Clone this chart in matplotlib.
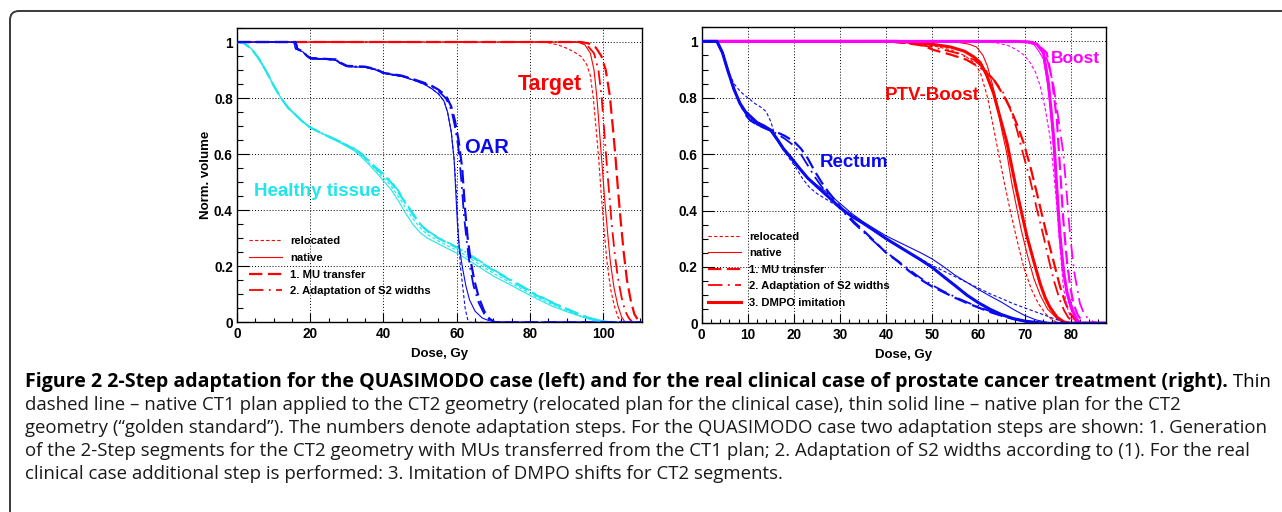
import numpy as np
import matplotlib
matplotlib.use('Agg')
import matplotlib.pyplot as plt
from matplotlib.lines import Line2D
from matplotlib.patches import FancyBboxPatch
from matplotlib.transforms import IdentityTransform
from matplotlib.ticker import MultipleLocator, FuncFormatter

# ---------------- data (dose Gy, normalized volume) ----------------
# LEFT: QUASIMODO case
L_HT_REL = [(0,1),(2,0.995),(4,0.975),(6,0.94),(8,0.895),(10,0.845),(12,0.8),(14,0.765),(16,0.74),(18,0.715),(20,0.695),(23,0.675),(26,0.656),(29,0.636),(32,0.615),(34,0.595),(36,0.57),(38,0.542),(40,0.515),(42,0.488),(44,0.45),(46,0.41),(48,0.37),(50,0.337),(52,0.313),(55,0.29),(58,0.27),(61,0.25),(64,0.225),(67,0.2),(70,0.175),(74,0.146),(78,0.117),(82,0.089),(86,0.064),(90,0.042),(94,0.022),(97,0.01),(100,0.002),(101.5,0),(110.7,0)]
L_HT_NAT = [(0,1),(2,0.995),(4,0.975),(6,0.94),(8,0.895),(10,0.845),(12,0.8),(14,0.765),(16,0.74),(18,0.715),(20,0.695),(23,0.675),(26,0.655),(29,0.635),(32,0.612),(34,0.59),(36,0.563),(38,0.535),(40,0.505),(42,0.475),(44,0.435),(46,0.39),(48,0.35),(50,0.32),(52,0.3),(55,0.28),(58,0.26),(61,0.24),(64,0.215),(67,0.19),(70,0.165),(74,0.138),(78,0.11),(82,0.083),(86,0.058),(90,0.038),(94,0.02),(97,0.008),(100,0.002),(101,0),(110.7,0)]
L_HT_MU = [(0,1),(2,0.995),(4,0.975),(6,0.94),(8,0.895),(10,0.845),(12,0.8),(14,0.765),(16,0.74),(18,0.715),(20,0.695),(23,0.675),(26,0.657),(29,0.638),(32,0.618),(34,0.6),(36,0.575),(38,0.548),(40,0.525),(42,0.5),(44,0.465),(46,0.425),(48,0.385),(50,0.35),(52,0.325),(55,0.3),(58,0.28),(61,0.26),(64,0.235),(67,0.21),(70,0.185),(74,0.155),(78,0.125),(82,0.095),(86,0.07),(90,0.047),(94,0.025),(97,0.012),(100,0.003),(102,0),(110.7,0)]
L_HT_AD = [(0,1),(2,0.995),(4,0.975),(6,0.94),(8,0.895),(10,0.845),(12,0.8),(14,0.765),(16,0.74),(18,0.715),(20,0.695),(23,0.676),(26,0.658),(29,0.64),(32,0.62),(34,0.602),(36,0.578),(38,0.552),(40,0.53),(42,0.505),(44,0.47),(46,0.43),(48,0.39),(50,0.352),(52,0.327),(55,0.302),(58,0.282),(61,0.262),(64,0.238),(67,0.213),(70,0.188),(74,0.158),(78,0.128),(82,0.098),(86,0.072),(90,0.049),(94,0.027),(97,0.013),(100,0.004),(102.5,0),(110.7,0)]

L_OAR_REL = [(0,1),(15.5,1),(16,0.975),(18,0.965),(19,0.95),(20,0.94),(24,0.938),(27,0.935),(28,0.925),(30,0.912),(35,0.91),(38,0.9),(40,0.888),(45,0.877),(48,0.865),(51,0.85),(53,0.835),(55,0.815),(56.5,0.79),(57.5,0.75),(58.5,0.68),(59.3,0.58),(60,0.45),(60.5,0.3),(61,0.2),(61.7,0.12),(62.3,0.05),(63,0.01),(63.5,0),(110.7,0)]
L_OAR_NAT = [(0,1),(15.5,1),(16,0.975),(18,0.965),(19,0.95),(20,0.94),(24,0.938),(27,0.935),(28,0.925),(30,0.912),(35,0.91),(38,0.9),(40,0.888),(45,0.877),(48,0.865),(51,0.85),(53,0.835),(55,0.815),(56.5,0.79),(57.5,0.75),(58.5,0.68),(59.3,0.58),(59.8,0.45),(60.2,0.35),(60.7,0.27),(61.5,0.2),(62.5,0.13),(63.5,0.08),(65,0.04),(67,0.015),(69,0.005),(71,0),(110.7,0)]
L_OAR_MU = [(0,1),(16,1),(16.5,0.975),(18,0.967),(19,0.952),(20,0.943),(24,0.94),(27,0.938),(28,0.928),(30,0.915),(35,0.912),(38,0.903),(40,0.89),(45,0.88),(48,0.868),(51,0.855),(53,0.845),(55,0.83),(57,0.81),(58.5,0.77),(59.5,0.72),(60.5,0.65),(61.5,0.55),(62.3,0.4),(63,0.3),(63.8,0.22),(64.8,0.15),(66,0.09),(67.5,0.04),(69,0.012),(70.5,0),(110.7,0)]
L_OAR_AD = [(0,1),(16,1),(16.5,0.975),(18,0.966),(19,0.951),(20,0.942),(24,0.939),(27,0.937),(28,0.927),(30,0.914),(35,0.911),(38,0.902),(40,0.889),(45,0.879),(48,0.867),(51,0.853),(53,0.842),(55,0.825),(57,0.8),(58.5,0.76),(59.5,0.7),(60.5,0.62),(61.3,0.5),(62,0.38),(62.8,0.28),(63.6,0.2),(64.6,0.13),(66,0.07),(67.5,0.03),(69,0.008),(70.5,0),(110.7,0)]

L_TG_REL = [(0,1),(84,1),(86,0.995),(88,0.988),(90,0.978),(92,0.965),(94,0.948),(95.5,0.92),(96.5,0.88),(97.3,0.8),(98,0.7),(98.8,0.58),(99.5,0.45),(100.3,0.32),(101,0.22),(102,0.12),(103,0.06),(104,0.02),(105,0),(110.7,0)]
L_TG_NAT = [(0,1),(93,1),(95,0.99),(96.5,0.96),(97.5,0.9),(98.3,0.8),(99,0.68),(99.7,0.56),(100.4,0.44),(101.2,0.32),(102,0.21),(103,0.12),(104,0.06),(105,0.02),(106,0),(110.7,0)]
L_TG_MU = [(0,1),(94,1),(96,0.995),(98,0.98),(99.5,0.95),(100.7,0.9),(101.8,0.81),(102.6,0.7),(103.3,0.6),(104,0.48),(104.8,0.36),(105.6,0.25),(106.5,0.15),(107.5,0.08),(108.5,0.03),(109.5,0.008),(110.3,0),(110.7,0)]
L_TG_AD = [(0,1),(93.5,1),(95.5,0.99),(97.5,0.96),(98.7,0.9),(99.6,0.8),(100.3,0.68),(101,0.56),(101.7,0.45),(102.4,0.34),(103.2,0.24),(104,0.16),(105,0.09),(106,0.04),(107,0.015),(108,0),(110.7,0)]

# RIGHT: clinical prostate case
R_RE_REL = [(0,1),(3.3,1),(4.5,0.96),(5.6,0.9),(7,0.85),(8.5,0.82),(10,0.8),(11.5,0.78),(13,0.765),(14,0.75),(15,0.715),(16,0.66),(17.5,0.62),(19,0.585),(20.5,0.55),(22,0.51),(23.5,0.48),(25,0.46),(27,0.44),(29,0.42),(31,0.4),(33,0.38),(35,0.36),(37.5,0.33),(40,0.3),(42.5,0.275),(45,0.25),(47.5,0.228),(50,0.205),(52.5,0.185),(55,0.165),(57.5,0.145),(60,0.125),(62.5,0.105),(65,0.088),(67.5,0.07),(70,0.055),(72.5,0.04),(75,0.025),(77.5,0.01),(79,0),(87.6,0)]
R_RE_NAT = [(0,1),(3.3,1),(4.5,0.96),(5.6,0.9),(7,0.83),(8.3,0.78),(9.5,0.745),(10.5,0.72),(12,0.705),(13.5,0.695),(15,0.68),(16.5,0.645),(17.7,0.615),(19.5,0.58),(21.3,0.545),(23,0.515),(25,0.49),(27.5,0.46),(30,0.425),(32.5,0.39),(35,0.36),(37.5,0.335),(40,0.31),(42.5,0.29),(45,0.27),(47.5,0.25),(50,0.228),(52.5,0.2),(55,0.17),(57.5,0.145),(60,0.12),(62.5,0.097),(65,0.075),(67.5,0.05),(70,0.028),(72.5,0.012),(75,0.003),(77,0),(87.6,0)]
R_RE_MU = [(0,1),(3.3,1),(4.5,0.96),(5.6,0.9),(7,0.83),(8.3,0.78),(9.5,0.74),(10.5,0.72),(12,0.705),(14,0.69),(16,0.68),(18,0.665),(20,0.645),(21.5,0.62),(23,0.585),(24.5,0.54),(26,0.5),(27.5,0.465),(29,0.435),(31,0.395),(33,0.36),(35,0.33),(37.5,0.29),(40,0.25),(42.5,0.22),(45,0.185),(47.5,0.155),(50,0.13),(52.5,0.11),(55,0.09),(57.5,0.072),(60,0.056),(62.5,0.04),(65,0.027),(67.5,0.016),(70,0.007),(72,0.002),(74,0),(87.6,0)]
R_RE_AD = [(0,1),(3.3,1),(4.5,0.96),(5.6,0.9),(7,0.83),(8.3,0.78),(9.5,0.745),(10.5,0.725),(12,0.705),(14,0.69),(16,0.675),(18,0.655),(20,0.63),(21.5,0.6),(23,0.56),(24.5,0.52),(26,0.485),(27.5,0.455),(29,0.425),(31,0.39),(33,0.355),(35,0.325),(37.5,0.288),(40,0.252),(42.5,0.222),(45,0.19),(47.5,0.16),(50,0.135),(52.5,0.113),(55,0.093),(57.5,0.075),(60,0.058),(62.5,0.043),(65,0.029),(67.5,0.017),(70,0.008),(72,0.003),(74,0),(87.6,0)]
R_RE_DM = [(0,1),(3.3,1),(4.5,0.96),(5.6,0.9),(7,0.83),(8.3,0.78),(9.5,0.75),(10.5,0.735),(12,0.712),(13.5,0.7),(15,0.685),(16.5,0.65),(17.7,0.62),(19.5,0.585),(21.3,0.548),(23,0.515),(25,0.485),(27.5,0.448),(30,0.41),(32.5,0.38),(35,0.355),(37.5,0.328),(40,0.3),(42.5,0.275),(45,0.25),(47.5,0.225),(50,0.198),(52.5,0.165),(55,0.133),(57.5,0.1),(60,0.073),(62.5,0.05),(65,0.031),(67.5,0.017),(70,0.008),(72.5,0.003),(75,0),(87.6,0)]

R_PB_REL = [(0,1),(38,1),(42,0.998),(46,0.993),(50,0.985),(54,0.97),(57,0.95),(59,0.925),(60.4,0.89),(61.3,0.84),(62,0.8),(63.2,0.7),(64.4,0.6),(65.6,0.5),(66.9,0.4),(68.3,0.3),(69.8,0.2),(71.5,0.12),(73,0.07),(74.5,0.035),(76,0.012),(77.5,0),(87.6,0)]
R_PB_NAT = [(0,1),(50,1),(55,0.998),(58,0.99),(59.6,0.98),(61,0.95),(62,0.91),(63,0.85),(64,0.78),(65,0.69),(66.2,0.6),(67.2,0.5),(68.3,0.41),(69.3,0.33),(70.5,0.25),(72,0.16),(73.4,0.1),(75,0.05),(77,0.018),(79,0),(87.6,0)]
R_PB_MU = [(0,1),(40,1),(44,0.995),(48,0.985),(50.2,0.97),(54,0.953),(57.4,0.935),(61.1,0.9),(63.5,0.86),(65.4,0.81),(67,0.76),(68.5,0.7),(69.8,0.64),(71.2,0.56),(72.7,0.46),(74,0.37),(75.5,0.27),(76.6,0.2),(77.7,0.13),(78.8,0.075),(79.9,0.035),(81,0.012),(82,0),(87.6,0)]
R_PB_AD = [(0,1),(40,1),(45,0.993),(50,0.98),(55,0.96),(59,0.935),(61.5,0.9),(63.5,0.86),(65.4,0.818),(66.9,0.76),(68.3,0.69),(69.7,0.6),(71.2,0.51),(72.6,0.41),(74.1,0.31),(75.2,0.23),(76.3,0.155),(77.6,0.085),(78.6,0.045),(79.5,0.02),(80.5,0.005),(81.5,0),(87.6,0)]
R_PB_DM = [(0,1),(42,1),(46,0.997),(50,0.99),(54,0.98),(57,0.965),(59,0.945),(60.4,0.925),(61.8,0.88),(63.3,0.815),(64.7,0.73),(66.2,0.64),(67.3,0.55),(68.3,0.47),(69.4,0.39),(70.5,0.31),(72,0.22),(73.4,0.14),(74.5,0.09),(75.5,0.057),(77,0.022),(78.5,0.005),(80,0),(87.6,0)]

R_BO_REL = [(0,1),(60,1),(64,0.995),(66.5,0.985),(68.3,0.97),(70,0.95),(71.2,0.925),(72.4,0.89),(73.4,0.842),(74.5,0.76),(75.5,0.664),(76.3,0.54),(77,0.415),(77.7,0.27),(78.4,0.13),(79.2,0.06),(79.9,0.024),(80.5,0.008),(81,0),(87.6,0)]
R_BO_NAT = [(0,1),(66,1),(70,0.997),(72,0.99),(73.3,0.96),(74.1,0.937),(74.8,0.87),(75.5,0.783),(76.2,0.64),(77,0.486),(77.7,0.33),(78.4,0.19),(79.2,0.1),(80,0.05),(80.6,0.035),(81.3,0.012),(82,0),(87.6,0)]
R_BO_MU = [(0,1),(68,1),(71,0.998),(72.7,0.99),(74.8,0.96),(76,0.86),(77,0.723),(77.7,0.55),(78.4,0.367),(79.2,0.22),(79.9,0.13),(80.6,0.071),(81.5,0.03),(82.5,0.008),(83.3,0),(87.6,0)]
R_BO_AD = [(0,1),(68,1),(72,0.997),(74.1,0.97),(75.2,0.92),(76.3,0.842),(77.3,0.73),(78.4,0.605),(79.2,0.45),(79.9,0.308),(80.8,0.18),(82,0.071),(83,0.03),(84.1,0.013),(85,0.004),(86,0),(87.6,0)]
R_BO_DM = [(0,1),(68,1),(71,0.998),(72.7,0.99),(74.1,0.96),(75.2,0.85),(76.3,0.664),(77,0.48),(77.7,0.308),(78.5,0.18),(79.2,0.11),(79.9,0.071),(80.8,0.03),(81.5,0.01),(82.3,0),(87.6,0)]

LEGEND_LEFT = ["relocated", "native", "1. MU transfer", "2. Adaptation of S2 widths"]
LEGEND_RIGHT = LEGEND_LEFT + ["3. DMPO imitation"]
X_TICKS_LEFT = [0, 20, 40, 60, 80, 100]
X_TICKS_RIGHT = [0, 10, 20, 30, 40, 50, 60, 70, 80]
Y_TICKS = [0, 0.2, 0.4, 0.6, 0.8, 1]

CAPTION_BOLD = "Figure 2 2-Step adaptation for the QUASIMODO case (left) and for the real clinical case of prostate cancer treatment (right)."
CAPTION_LINES = [
    " Thin",
    "dashed line \u2013 native CT1 plan applied to the CT2 geometry (relocated plan for the clinical case), thin solid line \u2013 native plan for the CT2",
    "geometry (\u201cgolden standard\u201d). The numbers denote adaptation steps. For the QUASIMODO case two adaptation steps are shown: 1. Generation",
    "of the 2-Step segments for the CT2 geometry with MUs transferred from the CT1 plan; 2. Adaptation of S2 widths according to (1). For the real",
    "clinical case additional step is performed: 3. Imitation of DMPO shifts for CT2 segments.",
]

# ---------------- styling ----------------
RED, BLUE, CYAN, MAG = '#ff0000', '#0a0af0', '#1ee6ea', '#ff00ff'
STY = {
    'rel':  dict(lw=0.8, ls=(0, (3, 2))),
    'nat':  dict(lw=0.8, ls='-'),
    'mu':   dict(lw=1.6, ls=(0, (6, 2.5))),
    'ad':   dict(lw=1.3, ls=(0, (8, 3, 1, 3))),
    'dm':   dict(lw=2.2, ls='-'),
}

plt.rcParams['font.family'] = ['Liberation Sans', 'DejaVu Sans']
plt.rcParams['font.weight'] = 'bold'

W, H = 1282, 512
fig = plt.figure(figsize=(W / 100, H / 100), dpi=100)

# frame box
box = FancyBboxPatch((10, -40), 1330, H - 11 + 40, boxstyle="round,pad=0,rounding_size=9",
                     transform=IdentityTransform(), fill=False, ec='#3a3a3a', lw=1.4)
fig.add_artist(box)

axL = fig.add_axes([237 / W, 1 - 322.3 / H, (642 - 237) / W, (322.3 - 28) / H])
axR = fig.add_axes([701.7 / W, 1 - 323.3 / H, (1105.7 - 701.7) / W, (323.3 - 27.3) / H])


def draw(ax, data, color, key, z):
    a = np.array(data)
    ax.plot(a[:, 0], a[:, 1], color=color, zorder=z, solid_joinstyle='round', **STY[key])


for d, k in [(L_TG_REL, 'rel'), (L_TG_NAT, 'nat'), (L_TG_MU, 'mu'), (L_TG_AD, 'ad')]:
    draw(axL, d, RED, k, 3)
for d, k in [(L_HT_REL, 'rel'), (L_HT_NAT, 'nat'), (L_HT_MU, 'mu'), (L_HT_AD, 'ad')]:
    draw(axL, d, CYAN, k, 4)
for d, k in [(L_OAR_REL, 'rel'), (L_OAR_NAT, 'nat'), (L_OAR_MU, 'mu'), (L_OAR_AD, 'ad')]:
    draw(axL, d, BLUE, k, 5)

for d, k in [(R_PB_REL, 'rel'), (R_PB_NAT, 'nat'), (R_PB_MU, 'mu'), (R_PB_AD, 'ad'), (R_PB_DM, 'dm')]:
    draw(axR, d, RED, k, 3)
for d, k in [(R_BO_REL, 'rel'), (R_BO_NAT, 'nat'), (R_BO_MU, 'mu'), (R_BO_AD, 'ad'), (R_BO_DM, 'dm')]:
    draw(axR, d, MAG, k, 4)
for d, k in [(R_RE_REL, 'rel'), (R_RE_NAT, 'nat'), (R_RE_MU, 'mu'), (R_RE_AD, 'ad'), (R_RE_DM, 'dm')]:
    draw(axR, d, BLUE, k, 5)

yfmt = FuncFormatter(lambda v, p: ('%g' % round(v, 2)))
for ax, xmax, xt, xminor in [(axL, 110.6, X_TICKS_LEFT, 5), (axR, 87.6, X_TICKS_RIGHT, 2)]:
    ax.set_xlim(0, xmax)
    ax.set_ylim(0, 1.05)
    ax.set_xticks(xt)
    ax.set_yticks(Y_TICKS)
    ax.xaxis.set_minor_locator(MultipleLocator(xminor))
    ax.yaxis.set_minor_locator(MultipleLocator(0.05))
    ax.yaxis.set_major_formatter(yfmt)
    ax.grid(True, which='major', color='black', ls=(0, (1, 2)), lw=0.7, zorder=1)
    ax.tick_params(direction='in', which='both', top=False, right=False, labelsize=9.8, width=0.8)
    ax.tick_params(axis='y', which='major', length=8.5, pad=3)
    ax.tick_params(axis='y', which='minor', length=4.5)
    ax.tick_params(axis='x', which='major', length=6.3, pad=3.5)
    ax.tick_params(axis='x', which='minor', length=3.2)
    for sp in ax.spines.values():
        sp.set_linewidth(1.0)
    ax.set_xlabel("Dose, Gy", fontsize=9.5, fontweight='bold')
    ax.xaxis.set_label_coords(0.5, -0.108)
    ax.xaxis.label.set_va('center')
    ax.set_axisbelow(True)

axL.set_ylabel("Norm. volume", fontsize=9.5, fontweight='bold')
axL.yaxis.set_label_coords(-0.077, 0.5)
axL.yaxis.label.set_va('center')

# structure labels
axL.text(85.5, 0.8475, "Target", color=RED, fontsize=15.5, fontweight='bold', ha='center', va='center', zorder=6)
axL.text(68.2, 0.6236, "OAR", color=BLUE, fontsize=14.5, fontweight='bold', ha='center', va='center', zorder=6)
axL.text(21.9, 0.4665, "Healthy tissue", color=CYAN, fontsize=13.5, fontweight='bold', ha='center', va='center', zorder=6)
axR.text(32.95, 0.5715, "Rectum", color=BLUE, fontsize=13.5, fontweight='bold', ha='center', va='center', zorder=6)
axR.text(50.04, 0.809, "PTV-Boost", color=RED, fontsize=13.5, fontweight='bold', ha='center', va='center', zorder=6)
axR.text(81.1, 0.9395, "Boost", color=MAG, fontsize=12.5, fontweight='bold', ha='center', va='center', zorder=6)

# legends
keys = ['rel', 'nat', 'mu', 'ad', 'dm']
hL = [Line2D([], [], color=RED, **STY[k]) for k in keys[:4]]
hR = [Line2D([], [], color=RED, **STY[k]) for k in keys[:5]]
axL.legend(hL, LEGEND_LEFT, loc='upper left', bbox_to_anchor=(0.03, 0.293), frameon=False,
           prop=dict(family='Liberation Sans', weight='bold', size=8.1), handlelength=2.95,
           handletextpad=0.7, labelspacing=0.6, borderpad=0, borderaxespad=0)
axR.legend(hR, LEGEND_RIGHT, loc='upper left', bbox_to_anchor=(0.016, 0.309), frameon=False,
           prop=dict(family='Liberation Sans', weight='bold', size=8.1), handlelength=2.95,
           handletextpad=0.7, labelspacing=0.58, borderpad=0, borderaxespad=0)

# caption
fig.canvas.draw()
renderer = fig.canvas.get_renderer()
CAP_FONT = ['Open Sans', 'DejaVu Sans']
x0 = 25
baselines = [387, 410, 433, 456, 479]

tb = fig.text(x0 / W, 1 - baselines[0] / H, CAPTION_BOLD, family=CAP_FONT, weight='bold',
              fontsize=10, va='baseline', ha='left')
wb = tb.get_window_extent(renderer).width
tb.set_fontsize(10 * (1228 - x0) / wb)

probe = fig.text(0, 0, CAPTION_LINES[2], family=CAP_FONT, weight='normal', fontsize=10)
wp = probe.get_window_extent(renderer).width
probe.remove()
fs = 10 * (1266 - x0) / wp

wb = tb.get_window_extent(renderer).width
fig.text((x0 + wb) / W, 1 - baselines[0] / H, CAPTION_LINES[0], family=CAP_FONT, weight='normal',
         fontsize=fs, va='baseline', ha='left')
for line, yb in zip(CAPTION_LINES[1:], baselines[1:]):
    fig.text(x0 / W, 1 - yb / H, line, family=CAP_FONT, weight='normal', fontsize=fs,
             va='baseline', ha='left', color='#1a1a1a')

fig.savefig('out.png', dpi=100)
